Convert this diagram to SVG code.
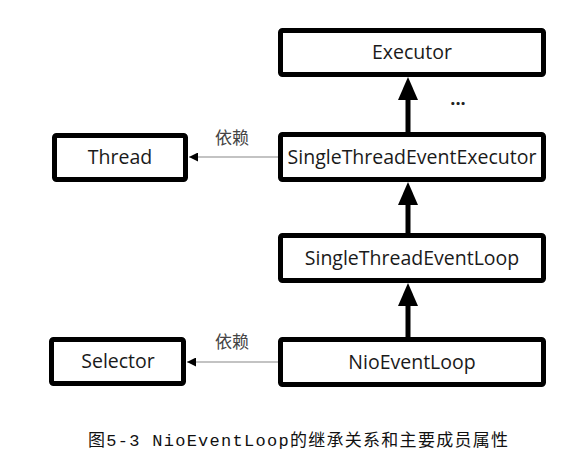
<svg xmlns="http://www.w3.org/2000/svg" width="585" height="464" viewBox="0 0 585 464">
<defs>
<style>
.box{fill:#fff;stroke:#000;stroke-width:5;}
.lbl{font-family:"Open Sans","Noto Sans",sans-serif;font-size:19.5px;fill:#1a1a1a;text-anchor:middle;}
.dep{font-family:"Noto Sans CJK SC",sans-serif;font-size:17px;fill:#444;text-anchor:middle;}
.inh{stroke:#000;stroke-width:5;fill:none;}
.use{stroke:#888;stroke-width:1.2;fill:none;}
</style>
<marker id="tri" viewBox="0 0 10 10" refX="10" refY="5" markerWidth="10" markerHeight="9" markerUnits="userSpaceOnUse" orient="auto"><path d="M0,0 L10,5 L0,10 Z" fill="#000"/></marker>
</defs>
<rect width="585" height="464" fill="#fff"/>
<g id="connectors">
<line class="inh" x1="408" y1="132" x2="408" y2="98"/>
<polygon points="408,77 398,100 418,100" fill="#000"/>
<line class="inh" x1="408" y1="233" x2="408" y2="203"/>
<polygon points="408,182 398,205 418,205" fill="#000"/>
<line class="inh" x1="408" y1="337" x2="408" y2="304"/>
<polygon points="408,283 398,306 418,306" fill="#000"/>
<line class="use" x1="278" y1="157" x2="189" y2="157" marker-end="url(#tri)"/>
<line class="use" x1="278" y1="362" x2="187" y2="362" marker-end="url(#tri)"/>
<text class="dep" x="232" y="144">依赖</text>
<text class="dep" x="232" y="348">依赖</text>
</g>
<g id="executor"><rect class="box" x="280.5" y="30.5" width="263" height="44" rx="2"/><text class="lbl" x="412" y="59">Executor</text></g>
<text x="458" y="105" font-family="Open Sans,sans-serif" font-size="18" font-weight="bold" fill="#222" text-anchor="middle">...</text>
<g id="stee"><rect class="box" x="280.5" y="134.5" width="263" height="45" rx="2"/><text class="lbl" x="412" y="164">SingleThreadEventExecutor</text></g>
<g id="stel"><rect class="box" x="280.5" y="235.5" width="263" height="45" rx="2"/><text class="lbl" x="412" y="265">SingleThreadEventLoop</text></g>
<g id="nel"><rect class="box" x="280.5" y="339.5" width="263" height="45" rx="2"/><text class="lbl" x="412" y="369">NioEventLoop</text></g>
<g id="thread"><rect class="box" x="54.5" y="135.5" width="131" height="44" rx="2"/><text class="lbl" x="120" y="164">Thread</text></g>
<g id="selector"><rect class="box" x="51.5" y="339.5" width="132" height="44" rx="2"/><text class="lbl" x="118" y="368">Selector</text></g>
<text x="88" y="446" font-family="Liberation Mono,Noto Sans CJK SC,monospace" font-size="17" fill="#111" textLength="420" lengthAdjust="spacing">图5-3  NioEventLoop的继承关系和主要成员属性</text>
</svg>
